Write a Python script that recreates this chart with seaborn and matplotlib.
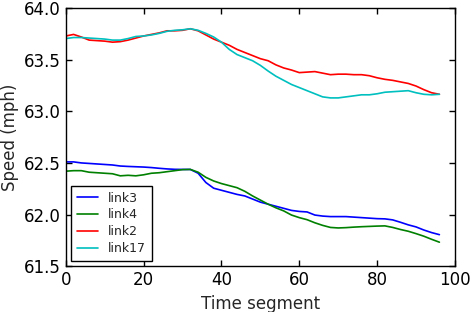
import pandas as pd
import matplotlib
matplotlib.use("Agg")
import matplotlib.pyplot as plt
import seaborn as sns

# time segments sampled every 2 steps
time_segment = list(range(0, 97, 2))

link3 = [62.51, 62.51, 62.50, 62.495, 62.49, 62.485, 62.48, 62.47, 62.466, 62.463,
         62.46, 62.455, 62.448, 62.442, 62.438, 62.437, 62.437, 62.40, 62.31, 62.255,
         62.235, 62.215, 62.195, 62.18, 62.15, 62.12, 62.10, 62.08, 62.06, 62.04,
         62.03, 62.025, 61.995, 61.985, 61.98, 61.98, 61.98, 61.975, 61.97, 61.965,
         61.96, 61.958, 61.948, 61.925, 61.90, 61.88, 61.85, 61.825, 61.805]

link4 = [62.42, 62.425, 62.425, 62.41, 62.405, 62.40, 62.395, 62.375, 62.38, 62.375,
         62.385, 62.40, 62.405, 62.415, 62.425, 62.435, 62.437, 62.41, 62.36, 62.325,
         62.30, 62.28, 62.26, 62.225, 62.18, 62.14, 62.10, 62.065, 62.035, 61.995,
         61.97, 61.95, 61.92, 61.895, 61.875, 61.87, 61.873, 61.878, 61.882, 61.885,
         61.888, 61.89, 61.875, 61.855, 61.838, 61.815, 61.79, 61.76, 61.732]

link2 = [63.73, 63.745, 63.72, 63.69, 63.685, 63.68, 63.67, 63.675, 63.69, 63.71,
         63.73, 63.745, 63.76, 63.78, 63.78, 63.785, 63.80, 63.78, 63.74, 63.70,
         63.67, 63.64, 63.60, 63.57, 63.54, 63.51, 63.49, 63.45, 63.42, 63.40,
         63.375, 63.38, 63.385, 63.37, 63.355, 63.36, 63.36, 63.355, 63.355, 63.345,
         63.325, 63.31, 63.30, 63.285, 63.27, 63.245, 63.21, 63.18, 63.165]

link17 = [63.705, 63.715, 63.715, 63.71, 63.705, 63.70, 63.69, 63.69, 63.705, 63.725,
          63.73, 63.74, 63.755, 63.775, 63.785, 63.79, 63.80, 63.785, 63.755, 63.72,
          63.67, 63.60, 63.55, 63.52, 63.49, 63.445, 63.39, 63.34, 63.30, 63.26,
          63.23, 63.20, 63.17, 63.14, 63.13, 63.13, 63.14, 63.15, 63.16, 63.16,
          63.17, 63.185, 63.19, 63.195, 63.20, 63.18, 63.165, 63.16, 63.165]

links = ["link3", "link4", "link2", "link17"]
colors = ["#0000ff", "#008000", "#ff0000", "#00bfbf"]

frames = []
for name, values in zip(links, [link3, link4, link2, link17]):
    frames.append(pd.DataFrame({"Time segment": time_segment, "Speed": values, "link": name}))
df = pd.concat(frames, ignore_index=True)

sns.set_style("ticks")
plt.rcParams["font.family"] = ["DejaVu Sans"]
plt.rcParams["xtick.direction"] = "in"
plt.rcParams["ytick.direction"] = "in"

fig = plt.figure(figsize=(4.7, 3.12), dpi=100)
ax = fig.add_axes([0.14, 0.147, 0.828, 0.827])

sns.lineplot(data=df, x="Time segment", y="Speed", hue="link", hue_order=links,
             palette=colors, linewidth=1.2, ax=ax)

ax.set_xlim(0, 100)
ax.set_ylim(61.5, 64.0)
ax.set_xticks([0, 20, 40, 60, 80, 100])
ax.set_yticks([61.5, 62.0, 62.5, 63.0, 63.5, 64.0])
ax.set_yticklabels(["61.5", "62.0", "62.5", "63.0", "63.5", "64.0"])
ax.tick_params(axis="both", which="major", direction="in", length=4, width=1,
               top=True, right=True, labelsize=12, color="black", labelcolor="black")
for spine in ax.spines.values():
    spine.set_visible(True)
    spine.set_color("black")
    spine.set_linewidth(1.0)

ax.set_xlabel("Time segment", fontsize=12)
ax.set_ylabel("Speed (mph)", fontsize=12)

leg = ax.legend(loc="lower left", fontsize=9, frameon=True, fancybox=False,
                edgecolor="black", framealpha=1, handlelength=1.7,
                borderaxespad=0.45, labelspacing=0.3, borderpad=0.45)
leg.get_frame().set_linewidth(1.0)

fig.savefig("out.png", dpi=100)
